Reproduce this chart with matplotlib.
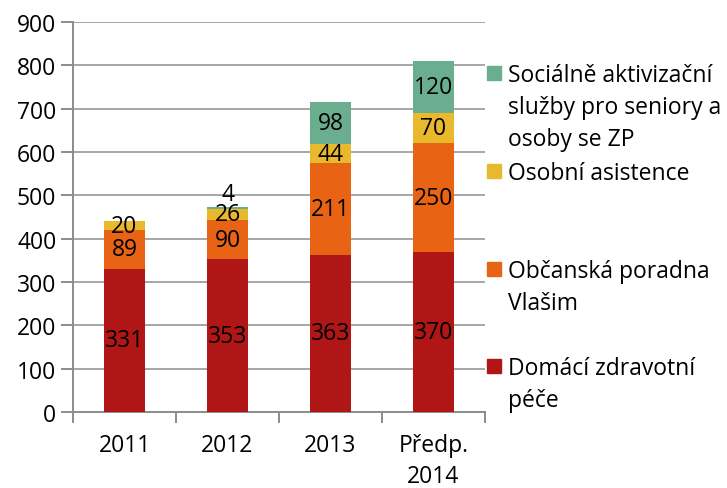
import numpy as np
import matplotlib
matplotlib.use("Agg")
import matplotlib.pyplot as plt
from matplotlib.patches import Rectangle

years = ["2011", "2012", "2013", "Předp.\n2014"]
domaci = [331, 353, 363, 370]
obcanska = [89, 90, 211, 250]
osobni = [20, 26, 44, 70]
socialne = [0, 4, 98, 120]

series = [domaci, obcanska, osobni, socialne]
names = ["Domácí zdravotní\npéče", "Občanská poradna\nVlašim", "Osobní asistence",
         "Sociálně aktivizační\nslužby pro seniory a\nosoby se ZP"]
colors = ["#B01616", "#E96314", "#E8B82D", "#6BAD8F"]

plt.rcParams["font.family"] = ["Open Sans", "DejaVu Sans"]
FS = 16.5

fig = plt.figure(figsize=(7.27, 4.89), dpi=100)
ax = fig.add_axes([73 / 727, 1 - 413 / 489, 412 / 727, 390 / 489])

x = np.arange(len(years))
bottom = np.zeros(len(years))
for vals, col in zip(series, colors):
    v = np.array(vals, dtype=float)
    ax.bar(x, v, 0.4, bottom=bottom, color=col, zorder=3, edgecolor="none")
    for xi, b, vi in zip(x, bottom, v):
        if vi <= 0:
            continue
        yy = b + vi / 2
        off = 10 if vi < 10 else 0  # tiny segment: label sits above
        ax.annotate(f"{int(vi)}", (xi, yy), xytext=(0, off), textcoords="offset points",
                    ha="center", va="center", fontsize=FS, color="black", zorder=4)
    bottom += v

ax.set_xlim(-0.5, 3.5)
ax.set_ylim(0, 900)
ax.set_yticks(range(0, 901, 100))
ax.grid(axis="y", color="#A6A6A6", lw=1.4, zorder=0)
ax.set_xticks(np.arange(-0.5, 3.6, 1.0))
ax.set_xticklabels([])
ax.set_xticks(x, minor=True)
ax.set_xticklabels(years, minor=True, fontsize=FS, linespacing=1.4)
ax.tick_params(axis="x", which="minor", length=0, pad=15)
ax.tick_params(axis="x", which="major", length=8, color="#8C8C8C", width=1.4)
ax.tick_params(axis="y", length=9, color="#8C8C8C", width=1.4, labelsize=FS, pad=3)
for s in ["top", "right"]:
    ax.spines[s].set_visible(False)
for s in ["left", "bottom"]:
    ax.spines[s].set_color("#8C8C8C")
    ax.spines[s].set_linewidth(1.4)

# legend, drawn by hand to match the spacing of the original
leg_base = [82, 180, 278, 375]  # baseline px of first text line, top to bottom
step = 32
for lb, name, col in zip(leg_base, names[::-1], colors[::-1]):
    fig.patches.append(Rectangle((487 / 727, 1 - (lb - 1) / 489), 14 / 727, 14 / 489,
                                 transform=fig.transFigure, color=col, zorder=5))
    for i, line in enumerate(name.split("\n")):
        fig.text(508 / 727, 1 - (lb + i * step) / 489, line, fontsize=FS,
                 va="baseline", ha="left")

fig.savefig("out.png", dpi=100)
